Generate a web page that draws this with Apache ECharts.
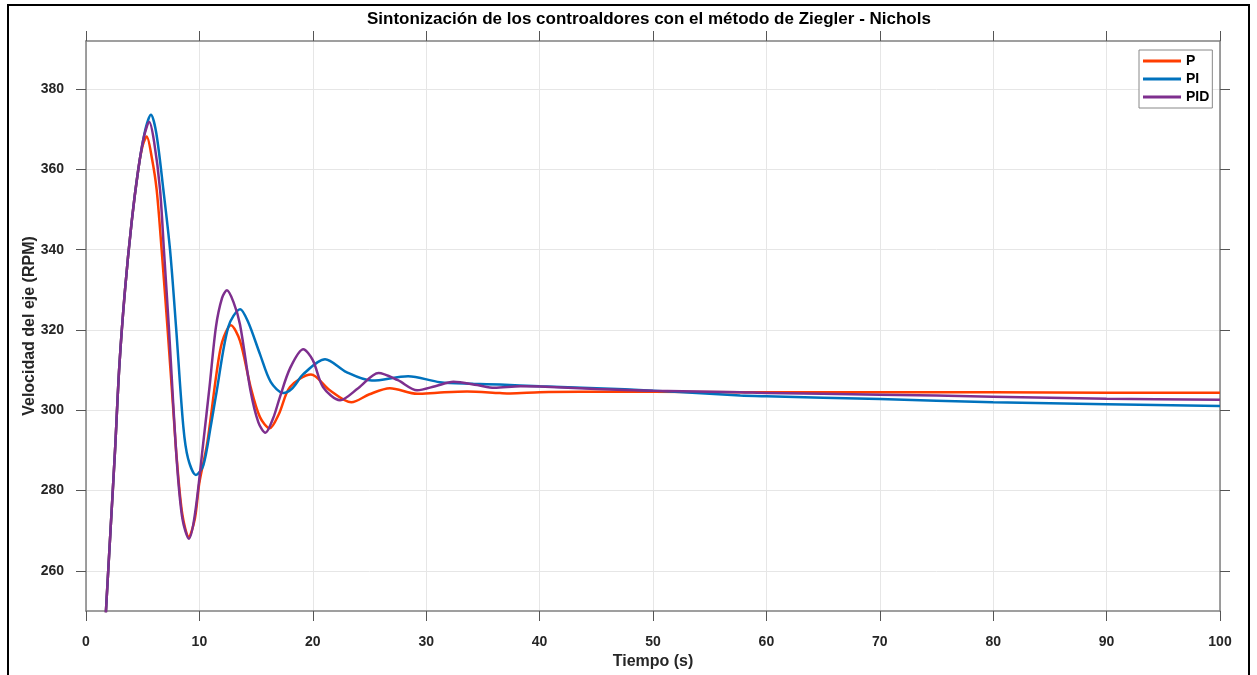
<!DOCTYPE html>
<html>
<head>
<meta charset="utf-8">
<script src="https://cdn.jsdelivr.net/npm/echarts@6/dist/echarts.min.js"></script>
<style>
  html, body { margin: 0; padding: 0; background: #fff; overflow: hidden; }
  #chart { width: 1257px; height: 675px; }
</style>
</head>
<body>
<div id="chart"></div>
<script>
// values (time in s, speed in RPM)
const tP = [1.6, 1.76, 2.18, 2.56, 2.94, 3.44, 4.03, 4.61, 5.0, 5.35, 5.8, 6.23, 6.67, 7.2, 7.7, 8.0, 8.5, 9.06, 9.6, 10.0, 10.7, 11.5, 12.0, 12.78, 13.58, 14.5, 15.34, 16.2, 17.0, 17.99, 19.84, 21.5, 23.4, 25.0, 26.8, 29.2, 31.0, 33.6, 36.5, 37.4, 40, 43.6, 50, 57.7, 70, 80, 90, 100];
const vP = [241, 250, 271, 290, 311, 330, 347, 360, 366, 368.2, 363, 355, 340, 320, 300, 288, 274, 268.5, 273, 282, 292, 309, 317, 321.2, 317.3, 306, 298.3, 295.5, 299, 305.8, 308.9, 305, 302.0, 304, 305.5, 304.1, 304.4, 304.7, 304.3, 304.2, 304.5, 304.6, 304.6, 304.5, 304.5, 304.5, 304.4, 304.4];

const tPI = [1.6, 1.76, 2.18, 2.56, 2.94, 3.44, 4.03, 4.61, 5.2, 5.73, 6.2, 6.82, 7.41, 7.94, 8.58, 9.0, 9.7, 10.34, 11.0, 11.5, 12.55, 13.6, 14.3, 15.34, 16.3, 17.4, 18.2, 19.16, 21.08, 22.97, 25.2, 28.4, 31.2, 34.15, 36.5, 40, 45, 50, 57.7, 60, 70, 80, 90, 100];
const vPI = [241, 250, 271, 290, 311, 330, 347, 360, 369.5, 373.6, 369, 355, 340, 320.8, 296, 288, 283.9, 286.2, 296, 304.3, 320.8, 325.2, 322, 314, 307, 304.3, 305.5, 309, 312.7, 309.5, 307.4, 308.5, 307.0, 306.6, 306.4, 306, 305.5, 304.9, 303.7, 303.5, 302.8, 302.0, 301.5, 301.1];

const tPID = [1.6, 1.76, 2.18, 2.56, 2.94, 3.44, 4.03, 4.61, 5.1, 5.58, 6.0, 6.53, 6.87, 7.3, 8.0, 8.5, 9.08, 9.6, 10.34, 10.9, 11.46, 12.0, 12.43, 13.0, 13.58, 14.5, 15.2, 15.82, 16.5, 17.1, 18.0, 19.16, 20.0, 20.9, 22.4, 24.0, 25.8, 27.5, 29.2, 30.8, 32.4, 34.5, 36.0, 38.3, 40, 45, 50, 57.7, 60, 70, 80, 90, 100];
const vPID = [241, 250, 271, 290, 311, 330, 347, 360, 368, 371.8, 367, 355, 340, 321, 287.6, 273, 268, 274, 291.9, 306, 320.8, 328, 329.9, 327, 321.4, 305, 297, 294.4, 298, 303.3, 310.5, 315.2, 312.5, 305.8, 302.5, 305.5, 309.3, 307.5, 305, 306, 307.1, 306.3, 305.6, 306.0, 305.9, 305.3, 304.9, 304.5, 304.3, 303.9, 303.4, 302.9, 302.6];

const yTicks = [260, 280, 300, 320, 340, 360, 380];
const seriesNames = ["P", "PI", "PID"];
const colors = ["#FF3D00", "#0072BD", "#7E2F8E"];

function pairs(ts, vs) {
  return ts.map((t, i) => [t, vs[i]]);
}

const chart = echarts.init(document.getElementById("chart"));
const font = "'Liberation Sans', Arial, sans-serif";
const axisGray = "#808080";
const tickDark = "#555";
const labelColor = "#262626";

const lineSeries = (name, data, color) => ({
  name: name,
  type: "line",
  data: data,
  smooth: 0.3,
  showSymbol: false,
  symbol: "none",
  clip: true,
  lineStyle: { width: 2.5, color: color },
  itemStyle: { color: color },
});

const option = {
  backgroundColor: "#fff",
  animation: false,
  color: colors,
  title: {
    text: "Sintonización de los controaldores con el método de Ziegler - Nichols",
    left: 367,
    top: 11,
    padding: 0,
    textStyle: { fontFamily: font, fontSize: 17, fontWeight: "bold", color: "#000" },
  },
  legend: {
    data: seriesNames,
    orient: "vertical",
    left: 1139,
    top: 50,
    padding: [3, 3, 3, 4],
    itemGap: 2,
    itemWidth: 38,
    itemHeight: 3,
    icon: "rect",
    borderColor: "#888",
    borderWidth: 1,
    borderRadius: 0,
    backgroundColor: "#fff",
    textStyle: { fontFamily: font, fontSize: 14, fontWeight: "bold", color: "#000", lineHeight: 16 },
  },
  grid: { left: 86, right: 37, top: 41, height: 577, containLabel: false },
  xAxis: [
    {
      type: "value",
      min: 0,
      max: 100,
      interval: 10,
      name: "Tiempo (s)",
      nameLocation: "middle",
      nameGap: 43,
      nameMoveOverlap: false,
      nameTextStyle: { fontFamily: font, fontSize: 16, fontWeight: "bold", color: labelColor },
      axisLine: { show: true, onZero: false, lineStyle: { color: axisGray, width: 1.5 } },
      axisTick: { show: true, length: 10, lineStyle: { color: tickDark, width: 1 } },
      axisLabel: { fontFamily: font, fontSize: 14, fontWeight: "bold", color: labelColor, margin: 24 },
      splitLine: { show: true, lineStyle: { color: "#e6e6e6", width: 1 } },
    },
    {
      type: "value",
      position: "top",
      min: 0,
      max: 100,
      interval: 10,
      axisLine: { show: true, onZero: false, lineStyle: { color: axisGray, width: 1.5 } },
      axisTick: { show: true, length: 10, lineStyle: { color: tickDark, width: 1 } },
      axisLabel: { show: false },
      splitLine: { show: false },
    },
  ],
  yAxis: [
    {
      type: "value",
      min: 250,
      max: 392,
      name: "Velocidad del eje (RPM)",
      nameLocation: "middle",
      nameGap: 48,
      nameMoveOverlap: false,
      nameTextStyle: { fontFamily: font, fontSize: 16, fontWeight: "bold", color: labelColor },
      axisLine: { show: true, onZero: false, lineStyle: { color: axisGray, width: 1.5 } },
      axisTick: { show: true, length: 10, customValues: yTicks, lineStyle: { color: tickDark, width: 1 } },
      axisLabel: { customValues: yTicks, fontFamily: font, fontSize: 14, fontWeight: "bold", color: labelColor, margin: 22 },
      splitLine: { show: true, lineStyle: { color: "#e6e6e6", width: 1 } },
    },
    {
      type: "value",
      position: "right",
      min: 250,
      max: 392,
      axisLine: { show: true, onZero: false, lineStyle: { color: axisGray, width: 1.5 } },
      axisTick: { show: true, length: 10, customValues: yTicks, lineStyle: { color: tickDark, width: 1 } },
      axisLabel: { show: false },
      splitLine: { show: false },
    },
  ],
  graphic: [
    {
      type: "rect",
      shape: { x: 8, y: 5, width: 1241, height: 700 },
      style: { fill: "none", stroke: "#000", lineWidth: 2 },
      silent: true,
    },
  ],
  series: [
    lineSeries("P", pairs(tP, vP), colors[0]),
    lineSeries("PI", pairs(tPI, vPI), colors[1]),
    lineSeries("PID", pairs(tPID, vPID), colors[2]),
  ],
};

chart.setOption(option);
</script>
</body>
</html>
